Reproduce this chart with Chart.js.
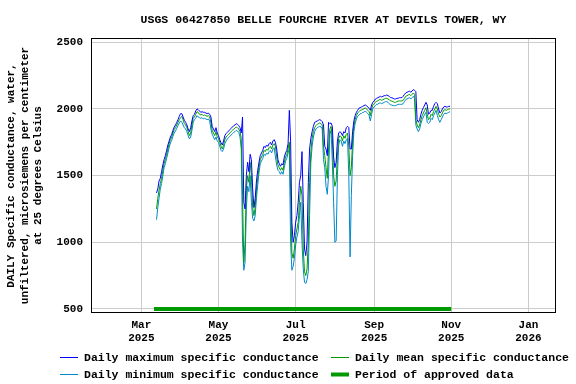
<!DOCTYPE html>
<html>
<head>
<meta charset="utf-8">
<script src="https://cdn.jsdelivr.net/npm/chart.js@4.4.1/dist/chart.umd.min.js"></script>
<style>
  html, body { margin: 0; padding: 0; background: #fff; }
  canvas { display: block; }
</style>
</head>
<body>
<canvas id="chart" width="576" height="384"></canvas>
<script>
// day numbers count from Jan 1 2025 = 0
const firstDay = 71; // Mar 13 2025

const maxValues = [
  1370, 1400, 1460, 1480, 1530, 1580, 1620, 1650, 1690, 1730, 1760, 1790, 1810, 1840, 1865, 1880, 1900, 1920, 1945, 1965,
  1965, 1940, 1915, 1900, 1880, 1850, 1830, 1860, 1910, 1950, 1960, 1985, 2000, 1995, 1985, 1975, 1980, 1975, 1975, 1970,
  1965, 1970, 1960, 1940, 1870, 1850, 1830, 1860, 1820, 1800, 1770, 1745, 1730, 1760, 1800, 1815, 1825, 1835, 1845, 1855,
  1865, 1875, 1880, 1890, 1885, 1875, 1860, 1820, 1940, 1300, 1250, 1500, 1600, 1530, 1660, 1620, 1400, 1260, 1330, 1460,
  1540, 1600, 1650, 1670, 1690, 1720, 1710, 1730, 1720, 1740, 1750, 1730, 1760, 1770, 1750, 1700, 1620, 1590, 1570, 1590,
  1580, 1640, 1670, 1690, 1740, 1990, 1760, 1150, 1000, 1050, 1150, 1200, 1300, 1450, 1500, 1680, 1300, 950, 900, 1000,
  1450, 1700, 1780, 1830, 1870, 1900, 1905, 1910, 1915, 1920, 1915, 1905, 1880, 1720, 1700, 1650, 1900, 1890, 1895, 1870,
  1640, 1560, 1600, 1760, 1820, 1830, 1820, 1800, 1830, 1820, 1860, 1870, 1860, 1700, 1700, 1830, 1910, 1950, 1975, 1990,
  2005, 2010, 2015, 2020, 2025, 2030, 2025, 2015, 2005, 1990, 2030, 2050, 2060, 2075, 2080, 2085, 2090, 2095, 2090, 2095,
  2100, 2100, 2105, 2100, 2095, 2085, 2085, 2080, 2075, 2075, 2080, 2080, 2085, 2085, 2085, 2095, 2110, 2120, 2125, 2130,
  2135, 2125, 2135, 2145, 2140, 2130, 1920, 1900, 1920, 1960, 1990, 2010, 2030, 2050, 2030, 1960, 1970, 1990, 1990, 2020,
  2040, 2050, 2040, 2000, 1970, 1980, 2000, 2015, 2020, 2015, 2015, 2020, 2020
];

const meanValues = [
  1250, 1330, 1390, 1440, 1480, 1540, 1590, 1620, 1660, 1700, 1740, 1770, 1790, 1820, 1845, 1860, 1880, 1900, 1920, 1935,
  1945, 1920, 1890, 1880, 1860, 1830, 1800, 1820, 1880, 1930, 1940, 1960, 1980, 1975, 1960, 1955, 1960, 1950, 1955, 1950,
  1945, 1950, 1940, 1900, 1840, 1820, 1800, 1830, 1790, 1780, 1750, 1720, 1700, 1730, 1770, 1790, 1800, 1810, 1820, 1830,
  1840, 1850, 1855, 1865, 1860, 1850, 1830, 1780, 1350, 850, 1000, 1400, 1500, 1450, 1600, 1500, 1260, 1200, 1260, 1400,
  1480, 1560, 1620, 1640, 1660, 1690, 1680, 1700, 1690, 1710, 1720, 1700, 1730, 1740, 1720, 1640, 1580, 1560, 1540, 1560,
  1540, 1600, 1640, 1660, 1700, 1750, 1400, 920, 880, 950, 1050, 1100, 1150, 1300, 1420, 1350, 950, 780, 750, 800,
  1000, 1450, 1680, 1780, 1830, 1860, 1875, 1885, 1890, 1895, 1890, 1880, 1720, 1650, 1560, 1480, 1700, 1850, 1870, 1780,
  1500, 1420, 1460, 1650, 1780, 1800, 1790, 1760, 1800, 1780, 1810, 1820, 1720, 1500, 1560, 1760, 1870, 1920, 1950, 1970,
  1980, 1990, 1990, 2000, 2000, 2010, 2000, 1990, 1980, 1950, 2000, 2030, 2040, 2050, 2060, 2060, 2070, 2070, 2065, 2070,
  2075, 2080, 2080, 2075, 2070, 2060, 2060, 2055, 2050, 2050, 2055, 2060, 2060, 2060, 2060, 2065, 2080, 2095, 2100, 2105,
  2110, 2100, 2110, 2120, 2110, 1920, 1880, 1860, 1880, 1920, 1950, 1970, 1990, 2010, 1960, 1920, 1930, 1960, 1950, 1980,
  2000, 2020, 2000, 1960, 1940, 1950, 1970, 1990, 1995, 1990, 1995, 2000, 2000
];

const minValues = [
  1170, 1260, 1330, 1400, 1440, 1500, 1560, 1590, 1630, 1670, 1710, 1745, 1765, 1795, 1820, 1835, 1855, 1875, 1895, 1910,
  1900, 1880, 1860, 1850, 1830, 1800, 1775, 1790, 1840, 1900, 1920, 1930, 1950, 1940, 1935, 1930, 1935, 1925, 1930, 1925,
  1920, 1925, 1910, 1850, 1810, 1790, 1770, 1790, 1760, 1750, 1720, 1690, 1680, 1700, 1740, 1760, 1775, 1785, 1795, 1805,
  1815, 1825, 1830, 1840, 1835, 1825, 1790, 1700, 1000, 790, 850, 1250, 1420, 1380, 1500, 1300, 1180, 1160, 1200, 1330,
  1430, 1520, 1590, 1610, 1630, 1660, 1650, 1670, 1660, 1680, 1690, 1670, 1700, 1710, 1640, 1580, 1540, 1530, 1510, 1530,
  1510, 1560, 1610, 1630, 1670, 1700, 1000, 790, 820, 880, 980, 1040, 1080, 1200, 1300, 1000, 800, 700, 690, 720,
  780, 1200, 1600, 1720, 1790, 1830, 1850, 1860, 1865, 1870, 1865, 1850, 1620, 1560, 1420, 1360, 1500, 1810, 1840, 1600,
  1300, 1000, 1010, 1500, 1730, 1770, 1760, 1720, 1760, 1740, 1770, 1780, 1500, 890, 1350, 1650, 1830, 1890, 1925, 1945,
  1955, 1965, 1965, 1975, 1975, 1985, 1975, 1965, 1955, 1910, 1960, 2005, 2015, 2025, 2035, 2035, 2045, 2045, 2040, 2045,
  2050, 2055, 2055, 2050, 2040, 2030, 2030, 2025, 2025, 2025, 2030, 2035, 2035, 2035, 2035, 2040, 2055, 2070, 2075, 2080,
  2085, 2075, 2085, 2095, 2080, 1880, 1850, 1830, 1850, 1890, 1920, 1940, 1960, 1975, 1900, 1890, 1900, 1930, 1920, 1950,
  1970, 1990, 1950, 1920, 1900, 1920, 1940, 1960, 1970, 1965, 1970, 1975, 1980
];

// period of approved data (day numbers) drawn at the 500 level
const approvedDays = [69, 304];
const approvedLevel = 500;

const tickDays = [59, 120, 181, 243, 304, 365];
const tickLabels = [["Mar", "2025"], ["May", "2025"], ["Jul", "2025"], ["Sep", "2025"], ["Nov", "2025"], ["Jan", "2026"]];
const yTicks = [500, 1000, 1500, 2000, 2500];

const FONT = '"Liberation Mono", "DejaVu Sans Mono", monospace';

const toPoints = (values) => values.map((v, i) => ({ x: firstDay + i, y: v }));

// black frame round the plot and the two-column legend under it
const frameAndLegend = {
    id: "frameAndLegend",
    afterDraw(chart) {
        const { ctx, chartArea } = chart;
        ctx.save();
        ctx.strokeStyle = "#000";
        ctx.lineWidth = 1;
        ctx.strokeRect(chartArea.left - 0.5, chartArea.top - 0.5,
            chartArea.right - chartArea.left + 1, chartArea.bottom - chartArea.top + 1);

        const cols = [60, 331];
        const rows = [357, 374];
        ctx.font = "bold 11.5px " + FONT;
        ctx.textBaseline = "middle";
        chart.data.datasets.forEach((ds, i) => {
            const x = cols[i % 2];
            const y = rows[Math.floor(i / 2)];
            ctx.strokeStyle = ds.borderColor;
            ctx.lineWidth = ds.borderWidth;
            ctx.beginPath();
            ctx.moveTo(x, y + 0.5);
            ctx.lineTo(x + 18, y + 0.5);
            ctx.stroke();
            ctx.fillStyle = "#000";
            ctx.fillText(ds.label, x + 24, y + 1);
        });
        ctx.restore();
    },
};

const ctx = document.getElementById("chart").getContext("2d");
new Chart(ctx, {
    type: "line",
    data: {
        datasets: [
            {
                label: "Daily maximum specific conductance",
                data: toPoints(maxValues),
                borderColor: "#0000ff",
                borderWidth: 1,
                pointRadius: 0,
            },
            {
                label: "Daily mean specific conductance",
                data: toPoints(meanValues),
                borderColor: "#009a00",
                borderWidth: 1,
                pointRadius: 0,
            },
            {
                label: "Daily minimum specific conductance",
                data: toPoints(minValues),
                borderColor: "#0088cc",
                borderWidth: 1,
                pointRadius: 0,
            },
            {
                label: "Period of approved data",
                data: approvedDays.map((d) => ({ x: d, y: approvedLevel })),
                borderColor: "#009900",
                borderWidth: 4,
                pointRadius: 0,
            },
        ],
    },
    options: {
        responsive: false,
        animation: false,
        devicePixelRatio: 1,
        layout: { padding: { left: 0, right: 21, top: 0, bottom: 0 } },
        plugins: {
            legend: { display: false },
            tooltip: { enabled: false },
            title: {
                display: true,
                fullSize: false,
                text: "USGS 06427850 BELLE FOURCHE RIVER AT DEVILS TOWER, WY",
                color: "#000",
                font: { family: FONT, size: 11.5, weight: "bold", lineHeight: "14px" },
                padding: { top: 13, bottom: 12 },
            },
        },
        scales: {
            x: {
                type: "linear",
                min: 20,
                max: 386,
                afterBuildTicks: (scale) => {
                    scale.ticks = tickDays.map((v) => ({ value: v }));
                },
                afterFit: (scale) => {
                    scale.height = 72;
                },
                grid: { color: "#cccccc", drawTicks: false },
                border: { display: false },
                ticks: {
                    autoSkip: false,
                    maxRotation: 0,
                    padding: 7,
                    color: "#000",
                    font: { family: FONT, size: 11, weight: "bold", lineHeight: "12.5px" },
                    callback: (value) => tickLabels[tickDays.indexOf(value)],
                },
            },
            y: {
                min: 477,
                max: 2525,
                afterBuildTicks: (scale) => {
                    scale.ticks = yTicks.map((v) => ({ value: v }));
                },
                afterFit: (scale) => {
                    scale.width = 92;
                },
                grid: { color: "#cccccc", drawTicks: false },
                border: { display: false },
                ticks: {
                    padding: 9,
                    color: "#000",
                    font: { family: FONT, size: 11, weight: "bold" },
                    callback: (value) => String(value),
                },
                title: {
                    display: true,
                    text: ["DAILY Specific conductance, water,", "unfiltered, microsiemens per centimeter", "at 25 degrees Celsius"],
                    color: "#000",
                    font: { family: FONT, size: 11, weight: "bold", lineHeight: "13.3px" },
                    padding: { top: 5, bottom: 0 },
                },
            },
        },
    },
    plugins: [frameAndLegend],
});
</script>
</body>
</html>
